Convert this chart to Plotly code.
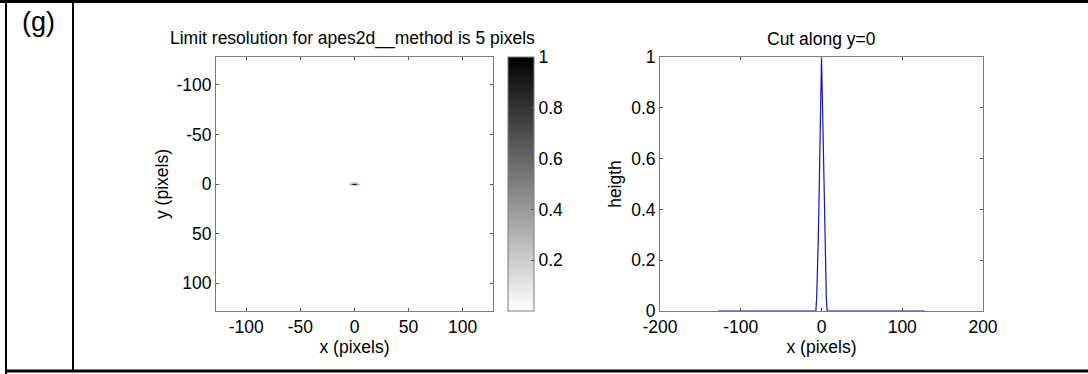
import plotly.graph_objects as go

W, H = 1088, 374

# ---- data ----
# cut along y=0 (profile through the peak)
cut_x = [-128, -7, -6, -5, -4, -3, -2, -1, 0, 1, 2, 3, 4, 5, 6, 7, 128]
cut_h = [0, 0, 0.05, 0.14, 0.28, 0.45, 0.66, 0.85, 1.0, 0.85, 0.66, 0.45, 0.28, 0.14, 0.05, 0, 0]

# 2D image values near the centre (rest of the 257x257 image is ~0)
img_x = [-7, -6, -5, -4, -3, -2, -1, 0, 1, 2, 3, 4, 5, 6, 7]
img_y = [-1, 0, 1]
img_row_m1 = [0, 0.02, 0.05, 0.1, 0.16, 0.24, 0.3, 0.34, 0.3, 0.24, 0.16, 0.1, 0.05, 0.02, 0]
img_row_0 = [0, 0.05, 0.14, 0.28, 0.45, 0.66, 0.85, 1.0, 0.85, 0.66, 0.45, 0.28, 0.14, 0.05, 0]
img_row_p1 = [0, 0.02, 0.05, 0.1, 0.16, 0.24, 0.3, 0.34, 0.3, 0.24, 0.16, 0.1, 0.05, 0.02, 0]

left_ticks = [-100, -50, 0, 50, 100]
cbar_ticks = [0.2, 0.4, 0.6, 0.8, 1]
cbar_labels = ["0.2", "0.4", "0.6", "0.8", "1"]
right_xticks = [-200, -100, 0, 100, 200]
right_yticks = [0, 0.2, 0.4, 0.6, 0.8, 1]
right_ylabels = ["0", "0.2", "0.4", "0.6", "0.8", "1"]

title_left = "Limit resolution for apes2d__method is 5 pixels"
title_right = "Cut along y=0"
panel_label = "(g)"

FONT = "Liberation Sans, Arial, sans-serif"
FS = 17.5
AX = "#7a7a7a"

def px(x):
    return x / W

def py(y):
    return 1 - y / H

fig = go.Figure()

fig.add_trace(go.Heatmap(
    x=img_x, y=img_y, z=[img_row_m1, img_row_0, img_row_p1],
    zmin=0, zmax=1,
    colorscale=[[0, "#ffffff"], [1, "#000000"]],
    xaxis="x", yaxis="y",
    colorbar=dict(
        x=px(508), xanchor="left", xpad=0, ypad=0,
        y=py(311), yanchor="bottom",
        len=(311 - 57) / H, lenmode="fraction",
        thickness=26, thicknessmode="pixels",
        outlinewidth=1, outlinecolor=AX,
        tickvals=cbar_ticks, ticktext=cbar_labels,
        ticks="inside", ticklen=3, tickcolor="#555",
        tickfont=dict(family=FONT, size=FS, color="black"),
    ),
    showscale=True,
))

fig.add_trace(go.Scatter(
    x=cut_x, y=cut_h, mode="lines",
    line=dict(color="#1414c8", width=1.2),
    xaxis="x2", yaxis="y2", showlegend=False,
))

axis_common = dict(
    showline=True, linecolor=AX, linewidth=1, mirror="ticks",
    ticks="inside", ticklen=3, tickcolor="#555",
    showgrid=False, zeroline=False, automargin=False,
    tickfont=dict(family=FONT, size=FS, color="black"),
)

fig.update_layout(
    template="none",
    width=W, height=H,
    margin=dict(l=0, r=0, t=0, b=0, pad=0, autoexpand=False),
    paper_bgcolor="white", plot_bgcolor="white",
    showlegend=False,
    font=dict(family=FONT, size=FS, color="black"),
    xaxis=dict(domain=[px(216), px(493)], range=[-128, 128], anchor="y",
               tickvals=left_ticks, ticktext=[str(v) for v in left_ticks],
               title=dict(text="x (pixels)", font=dict(size=FS), standoff=3), **axis_common),
    yaxis=dict(domain=[py(311), py(57)], range=[128, -128], anchor="x",
               tickvals=left_ticks, ticktext=[str(v) for v in left_ticks],
               title=dict(text="y (pixels)", font=dict(size=FS), standoff=3), **axis_common),
    xaxis2=dict(domain=[px(660), px(983)], range=[-200, 200], anchor="y2",
                tickvals=right_xticks, ticktext=[str(v) for v in right_xticks],
                title=dict(text="x (pixels)", font=dict(size=FS), standoff=3), **axis_common),
    yaxis2=dict(domain=[py(311), py(57)], range=[0, 1], anchor="x2",
                tickvals=right_yticks, ticktext=right_ylabels,
                title=dict(text="heigth", font=dict(size=FS), standoff=5), **axis_common),
)

fig.add_annotation(text=title_left, x=px(352), y=py(39), xref="paper", yref="paper",
                   showarrow=False, font=dict(family=FONT, size=FS, color="black"),
                   xanchor="center", yanchor="middle")
fig.add_annotation(text=title_right, x=px(821), y=py(39), xref="paper", yref="paper",
                   showarrow=False, font=dict(family=FONT, size=FS, color="black"),
                   xanchor="center", yanchor="middle")
fig.add_annotation(text=panel_label, x=px(38), y=py(22), xref="paper", yref="paper",
                   showarrow=False, font=dict(family=FONT, size=27, color="black"),
                   xanchor="center", yanchor="middle")

# frame lines
frame = [
    (0, 1.5, W, 1.5, 3),
    (6, 0, 6, H, 2),
    (73, 0, 73, 372, 2),
    (5, 371, W, 371, 3),
]
for x0, y0, x1, y1, w in frame:
    fig.add_shape(type="line", xref="paper", yref="paper",
                  x0=px(x0), y0=py(y0), x1=px(x1), y1=py(y1),
                  line=dict(color="black", width=w))

fig.write_html("out.html")
